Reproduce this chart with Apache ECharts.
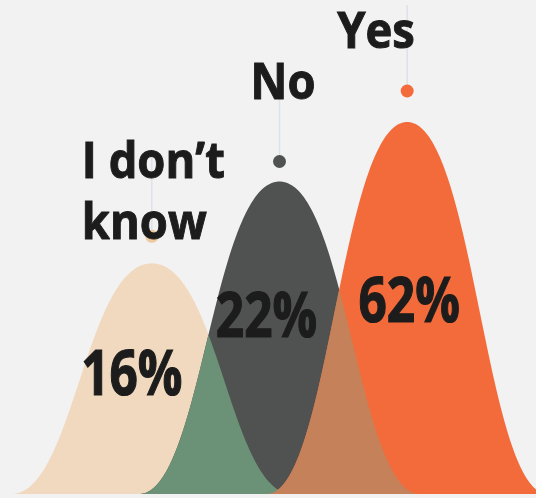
<!DOCTYPE html>
<html><head><meta charset="utf-8">
<script src="https://cdn.jsdelivr.net/npm/echarts@6/dist/echarts.min.js"></script>
<style>html,body{margin:0;padding:0;background:#f2f2f2}#c{width:536px;height:498px}</style>
</head><body><div id="c"></div>
<script>
// ---- data ----
const categories = ['I don’t\nknow', 'No', 'Yes'];
const percents = [16, 22, 62];
const curveHeights = [62, 84, 100];   // relative peak heights of the bells

// ---- styles ----
const colors = ['#F0D9BE', '#505251', '#F36B3A'];
const overlapColors = ['#6B9177', '#C58159'];
const dotColors = ['#EFCB9F', '#505251', '#F36B3A'];
const labelLayout = [
  {tx: -70, ty: -69, dot: -27, px: -20, py: 117},
  {tx: -29, ty: -97, dot: -20, px: -13, py: 175},
  {tx: -70, ty: -89, dot: -31, px: 2, py: 190}
];
const HALF = 1.1;
const A = 0.556, B = 0.474;
const FONT = "'Open Sans', 'Liberation Sans', sans-serif";
const TITLE_SCALE = 0.89, PCT_SCALE = 0.8;

function bellX(t) { const s = 1 - t; return s*s*s + 3*s*s*t*A + 3*s*t*t*B; }
function bellY(t) { return t*t*(3 - 2*t); }
function bell(u) {
  if (u >= 1) return 0;
  let lo = 0, hi = 1;
  for (let k = 0; k < 32; k++) { const m = (lo + hi) / 2; if (bellX(m) > u) lo = m; else hi = m; }
  return bellY((lo + hi) / 2);
}
function geom(api, i) {
  const base = api.coord([i, 0]);
  const top = api.coord([i, curveHeights[i]]);
  const bw = api.size([1, 0])[0];
  return {cx: base[0], y0: base[1], h: base[1] - top[1], w: bw * HALF, top: top[1]};
}
function fy(g, x) { return g.h * bell(Math.abs(x - g.cx) / g.w); }

const chart = echarts.init(document.getElementById('c'));
chart.setOption({
  animation: false,
  backgroundColor: '#f2f2f2',
  grid: {left: 88, right: 65, top: 122, bottom: 4},
  xAxis: {type: 'category', data: categories, show: false},
  yAxis: {type: 'value', min: 0, max: 100, show: false},
  series: [
    {
      type: 'custom', z: 2,
      data: categories.map((c, i) => [i, curveHeights[i]]),
      renderItem: function (params, api) {
        const i = params.dataIndex;
        const g = geom(api, i);
        const pts = [];
        const N = 200;
        for (let k = 0; k <= N; k++) {
          const x = g.cx - g.w + 2 * g.w * k / N;
          pts.push([x, g.y0 - fy(g, x)]);
        }
        return {type: 'polygon', shape: {points: pts}, style: {fill: colors[i]}};
      }
    },
    {
      type: 'custom', z: 3,
      data: categories.slice(0, -1).map((c, i) => [i, curveHeights[i]]),
      renderItem: function (params, api) {
        const i = params.dataIndex;
        const g1 = geom(api, i), g2 = geom(api, i + 1);
        const xa = Math.max(g1.cx - g1.w, g2.cx - g2.w);
        const xb = Math.min(g1.cx + g1.w, g2.cx + g2.w);
        const pts = [];
        const N = 200;
        for (let k = 0; k <= N; k++) {
          const x = xa + (xb - xa) * k / N;
          pts.push([x, g1.y0 - Math.min(fy(g1, x), fy(g2, x))]);
        }
        return {type: 'polygon', shape: {points: pts}, style: {fill: overlapColors[i]}};
      }
    },
    {
      type: 'custom', z: 4,
      data: categories.map((c, i) => [i, curveHeights[i]]),
      renderItem: function (params, api) {
        const i = params.dataIndex;
        const g = geom(api, i);
        const L = labelLayout[i];
        const dy = g.top + L.dot;
        return {
          type: 'group',
          children: [
            {type: 'line', shape: {x1: g.cx, y1: dy, x2: g.cx, y2: dy - 86},
              style: {stroke: '#dde2e8', lineWidth: 1.5}},
            {type: 'circle', shape: {cx: g.cx, cy: dy, r: 6.5}, style: {fill: dotColors[i]}},
            {type: 'text', x: g.cx + L.tx, y: g.top + L.ty, scaleX: TITLE_SCALE,
              style: {
              text: categories[i], x: 0, y: 0,
              fill: '#1c1c1c', stroke: '#1c1c1c', lineWidth: 1,
              fontSize: 51, fontWeight: 'bold', fontFamily: FONT,
              lineHeight: 61, align: 'left', verticalAlign: 'middle'}},
            {type: 'text', x: g.cx + L.px, y: g.y0 - L.py, scaleX: PCT_SCALE,
              style: {
              text: percents[i] + '%', x: 0, y: 0,
              fill: '#1c1c1c', stroke: '#1c1c1c', lineWidth: 1.2,
              fontSize: 62, fontWeight: 'bold', fontFamily: FONT,
              align: 'center', verticalAlign: 'middle'}}
          ]
        };
      }
    }
  ]
});
</script></body></html>
